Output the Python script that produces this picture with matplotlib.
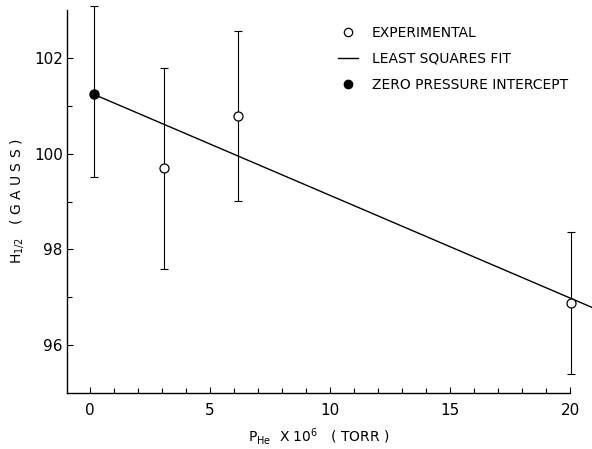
import numpy as np
from matplotlib import pyplot as plt
from matplotlib.lines import Line2D

# data
p_exp = [3.1, 6.15, 20.05]          # P_He x 10^6 (torr)
h_exp = [99.69, 100.78, 96.88]      # H_1/2 (gauss)
h_lo = [97.60, 99.01, 95.39]        # lower end of error bars
h_hi = [101.78, 102.57, 98.36]      # upper end of error bars

p_zero = [0.15]
h_zero = [101.24]
h_zero_lo = [99.51]
h_zero_hi = [103.08]

# least squares fit end points
p_fit = [0.15, 21.0]
h_fit = [101.24, 96.77]

x_ticks = [0, 5, 10, 15, 20]
y_ticks = [96, 98, 100, 102]

plt.rcParams['font.family'] = ['DejaVu Sans']

fig = plt.figure(figsize=(5.92, 4.49), dpi=100)
ax = fig.add_axes([67/592, 1 - 393/449, (570-67)/592, (393-10)/449])

err_exp = [np.array(h_exp) - np.array(h_lo), np.array(h_hi) - np.array(h_exp)]
err_zero = [np.array(h_zero) - np.array(h_zero_lo), np.array(h_zero_hi) - np.array(h_zero)]

ax.plot(p_fit, h_fit, color='black', lw=1.0, clip_on=False, zorder=2)
ax.errorbar(p_exp, h_exp, yerr=err_exp, fmt='none', ecolor='black',
            elinewidth=0.8, capsize=3.2, capthick=0.8, clip_on=False, zorder=3)
ax.errorbar(p_zero, h_zero, yerr=err_zero, fmt='none', ecolor='black',
            elinewidth=0.8, capsize=3.2, capthick=0.8, clip_on=False, zorder=3)
ax.plot(p_exp, h_exp, 'o', mfc='white', mec='black', mew=0.9, ms=6.5,
        clip_on=False, zorder=4)
ax.plot(p_zero, h_zero, 'o', mfc='black', mec='black', ms=6.5,
        clip_on=False, zorder=4)

ax.set_xlim(-0.96, 20)
ax.set_ylim(95, 103)
ax.set_xticks(x_ticks)
ax.set_yticks(y_ticks)
ax.set_xticks(np.arange(0, 21, 1), minor=True)
ax.set_yticks([97, 99, 101], minor=True)

for s in ['top', 'right']:
    ax.spines[s].set_visible(False)
for s in ['left', 'bottom']:
    ax.spines[s].set_linewidth(1.0)

ax.tick_params(which='both', direction='in', width=0.8)
ax.tick_params(which='major', length=4.5, labelsize=11)
ax.tick_params(which='minor', length=3.5)
ax.tick_params(axis='x', which='major', pad=7)
ax.tick_params(axis='y', which='major', pad=3)

ax.set_xlabel(r'P$_{\mathregular{He}}$  X 10$^{\mathregular{6}}$   ( TORR )', fontsize=10, labelpad=6)
ax.set_ylabel(r'H$_{\mathregular{1/2}}$   ( G A U S S )', fontsize=10, labelpad=6)

handles = [
    Line2D([], [], ls='none', marker='o', mfc='white', mec='black', mew=0.9, ms=6),
    Line2D([], [], color='black', lw=1.0),
    Line2D([], [], ls='none', marker='o', mfc='black', mec='black', ms=6),
]
labels = ['EXPERIMENTAL', 'LEAST SQUARES FIT', 'ZERO PRESSURE INTERCEPT']
fig.legend(handles, labels, loc='upper left', bbox_to_anchor=(338/592, 1 - 26/449),
           frameon=False, fontsize=10, handlelength=1.45, handletextpad=1.0,
           labelspacing=0.85, borderpad=0, borderaxespad=0)

fig.savefig('out.png', dpi=100)
